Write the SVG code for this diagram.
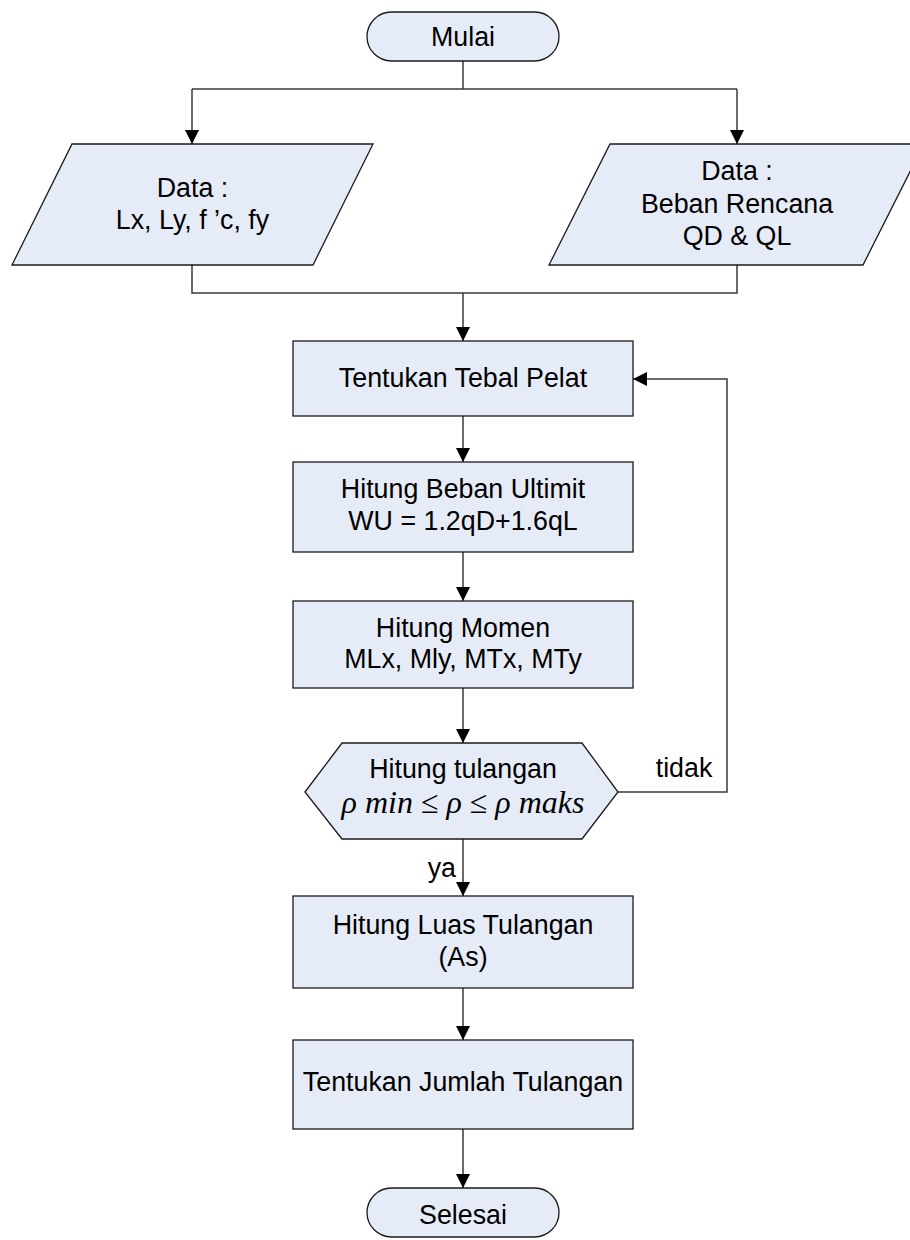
<svg xmlns="http://www.w3.org/2000/svg" width="910" height="1240" viewBox="0 0 910 1240">
  <style>
    .shape { fill: #E6ECF7; stroke: #1a1a1a; stroke-width: 1.3; }
    .conn { fill: none; stroke: #3a3a3a; stroke-width: 1.5; }
    .lbl { font-family: "Liberation Sans", Arial, sans-serif; font-size: 26.8px; fill: #000; text-anchor: middle; }
    .math { font-family: "Liberation Serif", "Times New Roman", serif; font-style: italic; font-size: 32px; fill: #000; text-anchor: middle; }
  </style>
  <defs>
    <marker id="arrow" markerUnits="userSpaceOnUse" markerWidth="16" markerHeight="16" refX="14" refY="7" orient="auto">
      <path d="M0,0 L14,7 L0,14 Z" fill="#000"/>
    </marker>
  </defs>

  <rect width="910" height="1240" fill="#fff"/>

  <!-- connectors -->
  <g id="connectors" class="conn">
    <path d="M463,61 V89"/>
    <path d="M192,89 H737"/>
    <path d="M192,89 V144" marker-end="url(#arrow)"/>
    <path d="M737,89 V144" marker-end="url(#arrow)"/>
    <path d="M192,265 V293 H737 V265"/>
    <path d="M463,293 V341" marker-end="url(#arrow)"/>
    <path d="M463,416 V462" marker-end="url(#arrow)"/>
    <path d="M463,552 V601" marker-end="url(#arrow)"/>
    <path d="M463,688 V743" marker-end="url(#arrow)"/>
    <path d="M618,792 H727 V379 H633" marker-end="url(#arrow)"/>
    <path d="M463,839 V896" marker-end="url(#arrow)"/>
    <path d="M463,988 V1040" marker-end="url(#arrow)"/>
    <path d="M463,1129 V1188" marker-end="url(#arrow)"/>
  </g>

  <!-- edge labels -->
  <g id="edge-labels">
    <text class="lbl" x="684" y="777">tidak</text>
    <text class="lbl" x="456" y="877" style="text-anchor:end">ya</text>
  </g>

  <g id="mulai">
    <rect class="shape" x="367" y="12" width="192" height="49" rx="24.5" ry="24.5"/>
    <text class="lbl" x="463" y="45.5">Mulai</text>
  </g>

  <g id="data-material">
    <polygon class="shape" points="72,144 373,144 313,265 12,265"/>
    <text class="lbl" x="192.5" y="197">Data :</text>
    <text class="lbl" x="192.5" y="229">Lx, Ly, f ’c, fy</text>
  </g>

  <g id="data-beban">
    <polygon class="shape" points="610,144 924,144 863,265 549,265"/>
    <text class="lbl" x="737" y="180">Data :</text>
    <text class="lbl" x="737" y="213">Beban Rencana</text>
    <text class="lbl" x="737" y="245">QD &amp; QL</text>
  </g>

  <g id="tebal-pelat">
    <rect class="shape" x="293" y="341" width="340" height="75"/>
    <text class="lbl" x="463" y="387">Tentukan Tebal Pelat</text>
  </g>

  <g id="beban-ultimit">
    <rect class="shape" x="293" y="462" width="340" height="90"/>
    <text class="lbl" x="463" y="498">Hitung Beban Ultimit</text>
    <text class="lbl" x="463" y="530">WU = 1.2qD+1.6qL</text>
  </g>

  <g id="momen">
    <rect class="shape" x="293" y="601" width="340" height="87"/>
    <text class="lbl" x="463" y="637">Hitung Momen</text>
    <text class="lbl" x="463" y="668">MLx, Mly, MTx, MTy</text>
  </g>

  <g id="cek-tulangan">
    <polygon class="shape" points="305,792 342,743 582,743 618,792 582,839 342,839"/>
    <text class="lbl" x="463" y="778">Hitung tulangan</text>
    <text class="math" x="463" y="813">ρ min ≤ ρ ≤ ρ maks</text>
  </g>

  <g id="luas-tulangan">
    <rect class="shape" x="293" y="896" width="340" height="92"/>
    <text class="lbl" x="463" y="934">Hitung Luas Tulangan</text>
    <text class="lbl" x="463" y="966">(As)</text>
  </g>

  <g id="jumlah-tulangan">
    <rect class="shape" x="293" y="1040" width="340" height="89"/>
    <text class="lbl" x="463" y="1091">Tentukan Jumlah Tulangan</text>
  </g>

  <g id="selesai">
    <rect class="shape" x="367" y="1188" width="192" height="49" rx="24.5" ry="24.5"/>
    <text class="lbl" x="463" y="1224">Selesai</text>
  </g>
</svg>
